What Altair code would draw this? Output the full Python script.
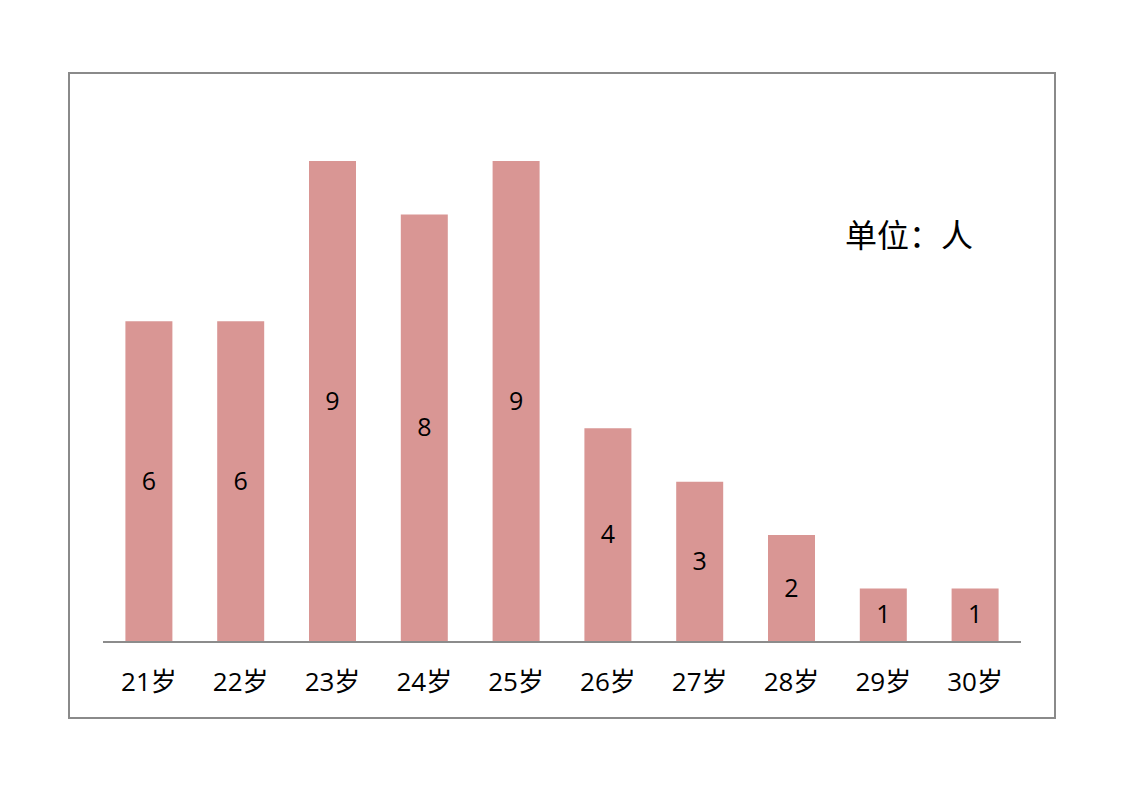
import altair as alt
import pandas as pd

ages = ["21岁", "22岁", "23岁", "24岁", "25岁", "26岁", "27岁", "28岁", "29岁", "30岁"]
counts = [6, 6, 9, 8, 9, 4, 3, 2, 1, 1]
unit_label = "单位：人"

df = pd.DataFrame({"age": ages, "count": counts})

FONT = "Open Sans, Noto Sans CJK SC, sans-serif"

x = alt.X("age:N", sort=ages,
          scale=alt.Scale(type="band", range=[34, 952], paddingInner=0.488, paddingOuter=0.244),
          axis=None)
y_scale = alt.Scale(domain=[0, 9], range=[569, 88], nice=False, zero=True)

bars = alt.Chart(df).mark_bar(color="#D99694").encode(
    x=x,
    y=alt.Y("count:Q", scale=y_scale, axis=None),
)

vals = alt.Chart(df).transform_calculate(mid="datum.count / 2").mark_text(
    font=FONT, fontSize=25, color="#000000", baseline="middle", align="center"
).encode(
    x=x,
    y=alt.Y("mid:Q", scale=y_scale, axis=None),
    text=alt.Text("count:Q"),
)

cats = alt.Chart(df).mark_text(
    font=FONT, fontSize=26, color="#000000", baseline="middle", align="center"
).encode(
    x=x,
    y=alt.value(610),
    text="age:N",
)

baseline = alt.Chart(df).mark_rule(color="#8c8c8c", strokeWidth=2).encode(
    x=alt.value(34), x2=alt.value(952),
    y=alt.value(569),
)

unit = alt.Chart(pd.DataFrame({"t": [unit_label]})).mark_text(
    font="Noto Sans CJK SC", fontSize=32, color="#000000", align="left", baseline="middle"
).encode(
    x=alt.value(776), y=alt.value(164), text="t:N"
)

chart = alt.layer(bars, vals, cats, baseline, unit).properties(
    width=986, height=645,
    background="white",
    padding={"left": 61, "top": 65, "right": 10, "bottom": 10},
).configure_view(
    stroke="#8a8a8a", strokeWidth=2
)

chart.save("out.html", embed_options={"renderer": "svg", "actions": False})
